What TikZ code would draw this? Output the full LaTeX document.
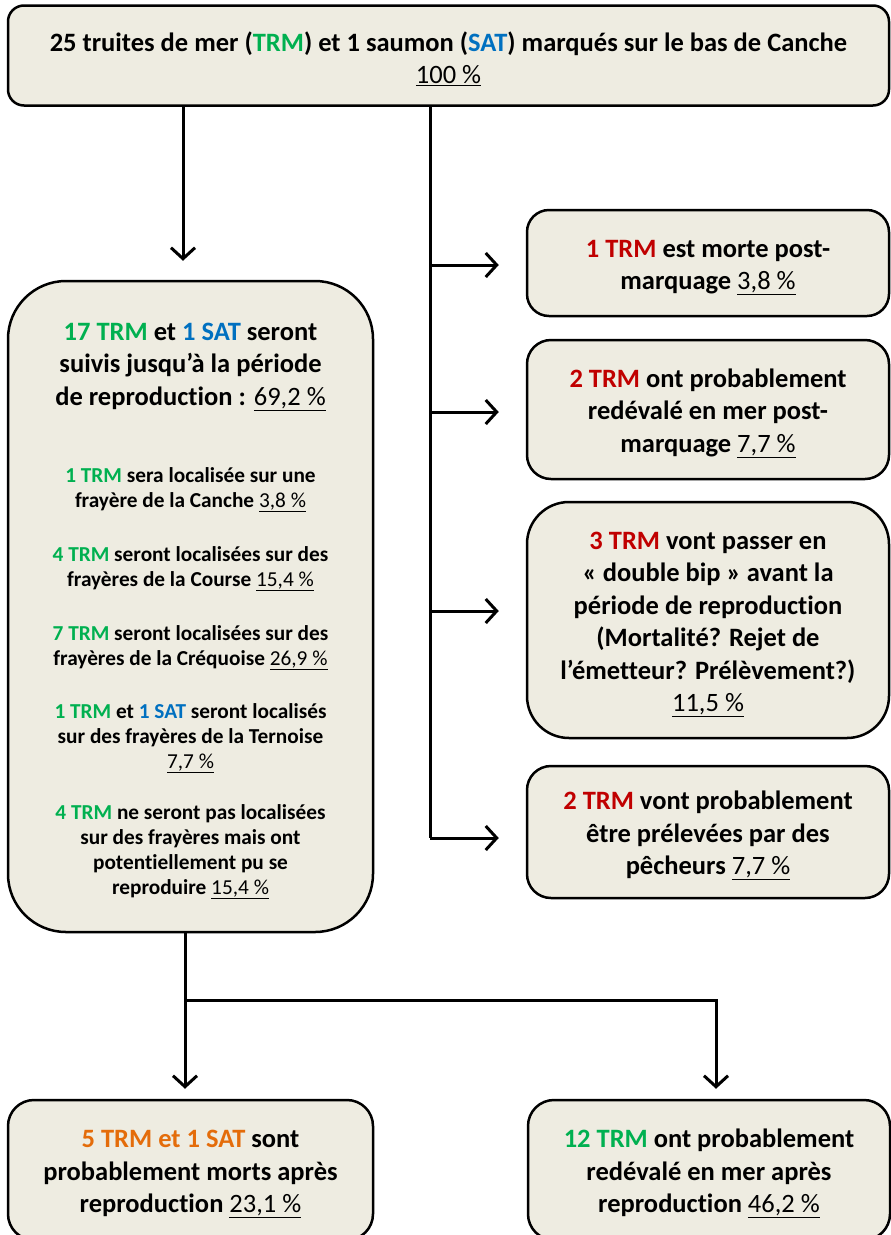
\documentclass[tikz,border=0pt]{standalone}
\usepackage{fontspec}
\setmainfont{Carlito}[Ligatures={TeX,NoCommon}]
\usetikzlibrary{arrows.meta}

\definecolor{fond}{HTML}{EEECE1}
\definecolor{vertc}{HTML}{00B050}
\definecolor{bleuc}{HTML}{0070C0}
\definecolor{rougec}{HTML}{C00000}
\definecolor{orangec}{HTML}{E46C0A}
\newcommand{\enVert}[1]{\textcolor{vertc}{#1}}
\newcommand{\enBleu}[1]{\textcolor{bleuc}{#1}}
\newcommand{\enRouge}[1]{\textcolor{rougec}{#1}}
\newcommand{\enOrange}[1]{\textcolor{orangec}{#1}}
\newcommand{\pourc}[1]{\underline{\mdseries #1~\%}}
\newcommand{\grand}{\fontsize{26.5}{32.5}\selectfont}
\newcommand{\petit}{\fontsize{21.3}{25}\selectfont}

\tikzset{
  boite/.style={draw, line width=2.5pt, fill=fond, align=flush center,
    font=\grand\bfseries, inner sep=0pt, text width=350pt,
    execute at begin node={\rule{0pt}{26pt}}},
  trait/.style={line width=3pt},
  fleche/.style={trait, -{Straight Barb[length=11pt, width=24pt]}},
}

\begin{document}
\begin{tikzpicture}[x=1pt, y=-1pt]
	\useasboundingbox (0,0) rectangle (891,1235);
	% boites
	\node[boite, minimum width=881pt, minimum height=100pt, rounded corners=16pt, text width=870pt] (0) at (448.5,55.5)
		{25 truites de mer (\enVert{TRM}) et 1 saumon (\enBleu{SAT}) marqués sur le bas de Canche\\ \pourc{100}};
	\node[boite, minimum width=365pt, minimum height=651pt, rounded corners=58pt] (1) at (190.5,606.5)
		{\enVert{17 TRM} et \enBleu{1 SAT} seront\\ suivis jusqu’à la période\\ de reproduction : \pourc{69,2}\\[52pt]
		\petit\enVert{1 TRM} sera localisée sur une\\ frayère de la Canche \pourc{3,8}\\[29pt]
		\enVert{4 TRM} seront localisées sur des\\ frayères de la Course \pourc{15,4}\\[29pt]
		\enVert{7 TRM} seront localisées sur des\\ frayères de la Créquoise \pourc{26,9}\\[28pt]
		\enVert{1 TRM} et \enBleu{1 SAT} seront localisés\\ sur des frayères de la Ternoise\\ \pourc{7,7}\\[26pt]
		\enVert{4 TRM} ne seront pas localisées\\ sur des frayères mais ont\\ potentiellement pu se\\ reproduire \pourc{15,4}\par};
	\node[boite, minimum width=362pt, minimum height=106pt, rounded corners=22pt] (2) at (708,263)
		{\enRouge{1 TRM} est morte post-\\ marquage \pourc{3,8}};
	\node[boite, minimum width=362pt, minimum height=139pt, rounded corners=24pt] (3) at (708,409.5)
		{\enRouge{2 TRM} ont probablement\\ redévalé en mer post-\\ marquage \pourc{7,7}};
	\node[boite, minimum width=362pt, minimum height=236pt, rounded corners=42pt] (4) at (708,620)
		{\enRouge{3 TRM} vont passer en\\ «~double bip~» avant la\\ période de reproduction\\ (Mortalité? Rejet de\\ l’émetteur? Prélèvement?)\\ \pourc{11,5}};
	\node[boite, minimum width=362pt, minimum height=132pt, rounded corners=24pt] (5) at (708,832)
		{\enRouge{2 TRM} vont probablement\\ être prélevées par des\\ pêcheurs \pourc{7,7}};
	\node[boite, minimum width=365pt, minimum height=140pt, rounded corners=26pt] (6) at (190.5,1170)
		{\enOrange{5 TRM et 1 SAT} sont\\ probablement morts après\\ reproduction \pourc{23,1}};
	\node[boite, minimum width=362pt, minimum height=140pt, rounded corners=26pt] (7) at (709,1170)
		{\enVert{12 TRM} ont probablement\\ redévalé en mer après\\ reproduction \pourc{46,2}};
	% points de passage
	\coordinate (a) at (183,0);
	\coordinate (b) at (430,838);
	\coordinate (b2) at (430,265);
	\coordinate (b3) at (430,412);
	\coordinate (b4) at (430,611);
	\coordinate (c) at (185,1000);
	\coordinate (d) at (716,1000);
	% liaisons
	\draw[fleche, shorten >=19pt] (0.south -| a) -- (a |- 1.north);
	\draw[trait] (0.south -| b) -- (b);
	\draw[fleche, shorten >=27pt] (b2) -- (b2 -| 2.west);
	\draw[fleche, shorten >=27pt] (b3) -- (b3 -| 3.west);
	\draw[fleche, shorten >=27pt] (b4) -- (b4 -| 4.west);
	\draw[fleche, shorten >=27pt] (b) -- (b -| 5.west);
	\draw[fleche, shorten >=10pt] (1.south -| c) -- (c |- 6.north);
	\draw[fleche, shorten >=10pt] (c) -- (d) -- (d |- 7.north);
\end{tikzpicture}
\end{document}
